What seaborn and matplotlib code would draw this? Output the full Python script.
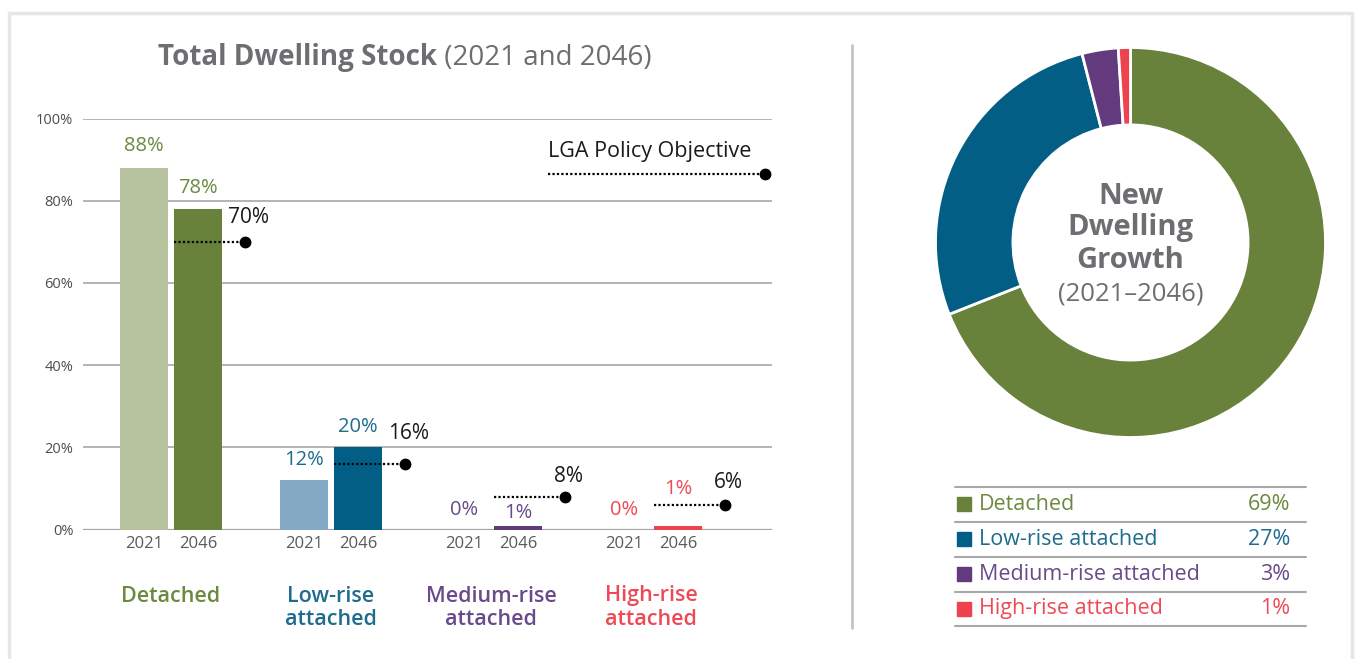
import matplotlib
matplotlib.use("Agg")
import matplotlib.pyplot as plt
import seaborn as sns
import pandas as pd
import numpy as np
from matplotlib.patches import Rectangle
from matplotlib.lines import Line2D

# ---------------- data ----------------
categories = ["Detached", "Low-rise\nattached", "Medium-rise\nattached", "High-rise\nattached"]
years = ["2021", "2046"]
stock_2021 = [88, 12, 0, 0]
stock_2046 = [78, 20, 1, 1]
policy_objective = [70, 16, 8, 6]
growth_labels = ["Detached", "Low-rise attached", "Medium-rise attached", "High-rise attached"]
growth_share = [69, 27, 3, 1]
yticks = [0, 20, 40, 60, 80, 100]

# ---------------- style ----------------
dark = ["#68813B", "#035E85", "#643A7F", "#EE434E"]
light = ["#B7C29F", "#84A9C4", "#9F88B3", "#F4A3A8"]
text_col = ["#6B8A40", "#1F6C8E", "#6A4A8A", "#EE4A55"]
title_gray = "#6D6E71"
# vertical offsets (px) of value labels above bar tops
val_dy_2021 = [22, 20, 20, 20]
val_dy_2046 = [21, 20, 13, 37]
pol_dy = [24, 30, 20, 23]

sns.set_theme(style="white")
plt.rcParams["font.family"] = ["Open Sans", "DejaVu Sans"]

W, H = 1357, 659
fig = plt.figure(figsize=(W / 100, H / 100), dpi=100)
PT = 72 / 100  # points per pixel


def fx(px):
    return px / W


def fy(py):
    return 1 - py / H


# outer frame
fig.patches.append(Rectangle((fx(9), fy(720)), fx(1352 - 9), (720 - 13) / H,
                             transform=fig.transFigure, fill=False,
                             ec="#E6E6E6", lw=2.5))

# ---------------- bar chart ----------------
ax = fig.add_axes([fx(83), fy(529.7), fx(772 - 83), (529.7 - 118.5) / H])
rows = []
for c, a, b in zip(categories, stock_2021, stock_2046):
    rows.append((c, years[0], a))
    rows.append((c, years[1], b))
df = pd.DataFrame(rows, columns=["category", "year", "share"])

sns.barplot(data=df, x="category", y="share", hue="year", order=categories,
            hue_order=years, width=0.675, gap=0.111, dodge=True, legend=False,
            saturation=1, ax=ax, errorbar=None)

for p in ax.patches:
    cx = p.get_x() + p.get_width() / 2
    i = int(round(cx))
    p.set_facecolor(dark[i] if cx > i else light[i])
    p.set_edgecolor("none")

ax.set_xlim(-0.55, 3.756)
ax.set_ylim(0, 100)
ax.set_yticks(yticks)
ax.set_yticklabels([f"{t}%" for t in yticks])
ax.yaxis.grid(True, color="#A8A8A8", lw=1.2)
ax.set_axisbelow(True)
for s in ax.spines.values():
    s.set_visible(False)
ax.tick_params(axis="y", length=0, pad=7, labelsize=10.5, labelcolor="#4D4D4D")
ax.set_xticks([])
ax.set_xlabel("")
ax.set_ylabel("")
ax.axhline(0, color="#9A9A9A", lw=1.6, zorder=0.5)

off = 0.675 / 4
for i in range(len(categories)):
    for sign, vals, dys, yr in ((-1, stock_2021, val_dy_2021, years[0]),
                                (1, stock_2046, val_dy_2046, years[1])):
        x = i + sign * off
        v = vals[i]
        ax.annotate(f"{v}%", (x, v), xytext=(0, dys[i] * PT), textcoords="offset points",
                    ha="center", va="center", color=text_col[i], fontsize=14.5,
                    annotation_clip=False)
        ax.annotate(yr, (x, 0), xytext=(0, -14 * PT), textcoords="offset points",
                    ha="center", va="center", color="#5A5A5A", fontsize=12,
                    annotation_clip=False)
    for k, line in enumerate(categories[i].split("\n")):
        ax.annotate(line, (i, 0), xytext=(0, -(596 - 529.7 + 23.5 * k) * PT),
                    textcoords="offset points", ha="center", va="center",
                    color=text_col[i], fontsize=15.5, fontweight="semibold",
                    annotation_clip=False)
    # policy objective
    v = policy_objective[i]
    ax.plot([i + off - 0.15, i + 0.46], [v, v], color="black", lw=1.6,
            ls=(0, (1, 1)), clip_on=False, zorder=3)
    ax.plot([i + 0.46], [v], "o", color="black", ms=7.5, clip_on=False, zorder=4)
    ax.annotate(f"{v}%", (i + 0.46, v), xytext=(4 * PT, pol_dy[i] * PT),
                textcoords="offset points", ha="center", va="center",
                color="#1A1A1A", fontsize=15, annotation_clip=False)

# policy legend
fig.add_artist(Line2D([fx(548), fx(765)], [fy(174), fy(174)], color="black", lw=1.6,
                      ls=(0, (1, 1))))
fig.add_artist(Line2D([fx(765)], [fy(174)], marker="o", color="black", ms=7.5))
fig.text(fx(548), fy(151), "LGA Policy Objective", ha="left", va="center",
         fontsize=15.5, color="#1A1A1A")

# title (bold + regular)
t1 = fig.text(0, fy(65), "Total Dwelling Stock", ha="left", va="baseline",
              fontsize=20, fontweight="bold", color=title_gray)
t2 = fig.text(0, fy(65), " (2021 and 2046)", ha="left", va="baseline",
              fontsize=20, color=title_gray)
fig.canvas.draw()
r = fig.canvas.get_renderer()
w1 = t1.get_window_extent(r).width
w2 = t2.get_window_extent(r).width
x0 = 404.5 - (w1 + w2) / 2
t1.set_x(fx(x0))
t2.set_x(fx(x0 + w1))

# divider
fig.add_artist(Line2D([fx(852), fx(852)], [fy(45), fy(628)], color="#C4C4C4", lw=2))

# ---------------- donut ----------------
ax2 = fig.add_axes([fx(935.5), fy(437.5), fx(390), 390 / H])
ax2.pie(growth_share, colors=dark, startangle=90, counterclock=False,
        wedgeprops=dict(width=0.397, edgecolor="white", linewidth=2))
ax2.set_xlim(-1, 1)
ax2.set_ylim(-1, 1)
ax2.set_aspect("equal")
ax2.axis("off")


def dy(py):
    return (242.5 - py) / 195


for txt, py in (("New", 196), ("Dwelling", 228), ("Growth", 260)):
    ax2.text(0, dy(py), txt, ha="center", va="center", fontsize=21,
             fontweight="bold", color=title_gray)
ax2.text(0, dy(294), "(2021\u20132046)", ha="center", va="center", fontsize=18.5,
         color=title_gray)

# ---------------- legend table ----------------
ax3 = fig.add_axes([fx(955), fy(626), fx(351), (626 - 487) / H])
ax3.set_xlim(955, 1306)
ax3.set_ylim(626, 487)
ax3.axis("off")
lines_y = [487, 522, 557, 592, 626]
for y in lines_y:
    ax3.plot([955, 1306], [y, y], color="#A8A8A8", lw=1.5, clip_on=False)
for k, (lab, val) in enumerate(zip(growth_labels, growth_share)):
    yc = (lines_y[k] + lines_y[k + 1]) / 2
    ax3.add_patch(Rectangle((957, yc - 7), 14, 14, color=dark[k], clip_on=False))
    ax3.text(979, yc, lab, ha="left", va="center", fontsize=15.5, color=text_col[k])
    ax3.text(1290, yc, f"{val}%", ha="right", va="center", fontsize=15.5,
             color=text_col[k])

fig.savefig("out.png", dpi=100)
